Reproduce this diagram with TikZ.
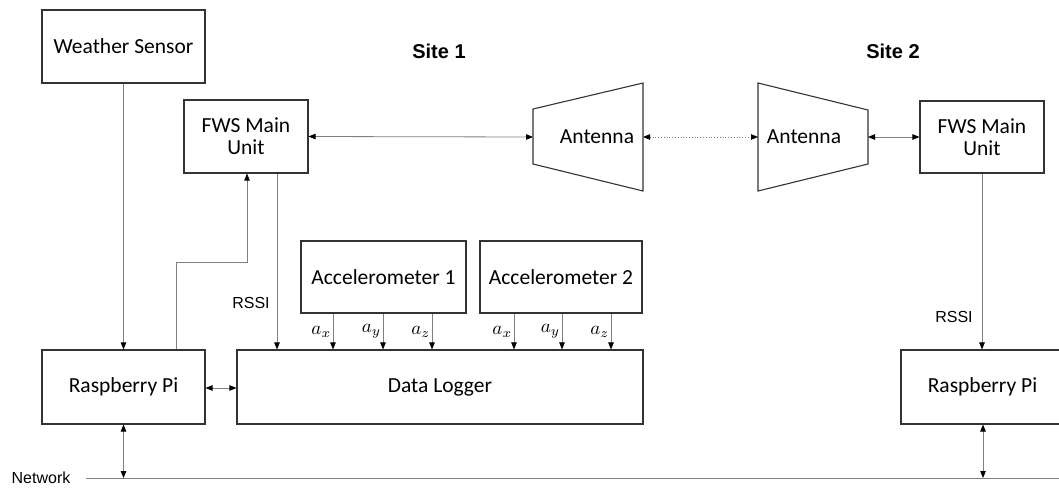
\documentclass[tikz,border=0pt]{standalone}
\usepackage{fontspec}
\setmainfont{Carlito}
\newfontfamily\arialf{Liberation Sans}
\usetikzlibrary{arrows.meta}
\begin{document}
\begin{tikzpicture}[x=1pt,y=-1pt,
  box/.style={draw=black!80,line width=1.1pt,minimum width=#1,inner sep=0pt,font=\fontsize{21.5}{25}\selectfont,align=center},
  conn/.style={draw=black!50,line width=0.8pt},
  tip/.style={-{Triangle[length=7pt,width=5.5pt,color=black]}},
  dtip/.style={{Triangle[length=7pt,width=5.5pt,color=black]}-{Triangle[length=7pt,width=5.5pt,color=black]}},
  lbl/.style={font=\arialf\fontsize{16}{18}\selectfont},
  ttl/.style={font=\arialf\bfseries\fontsize{20}{22}\selectfont},
  ax/.style={font=\fontsize{10}{12}\selectfont,inner sep=0.6pt,scale=1.9}]
\useasboundingbox (0,0) rectangle (1059,488);
% boxes
\node[box=163pt,minimum height=73pt] (ws) at (123.5,46.5) {Weather Sensor};
\node[box=124pt,minimum height=73pt] (fws1) at (246,136.5) {FWS Main\\[-3pt]Unit};
\node[box=124pt,minimum height=72pt] (fws2) at (982,137) {FWS Main\\[-3pt]Unit};
\node[box=165pt,minimum height=72pt] (acc1) at (383.5,277) {Accelerometer 1};
\node[box=162pt,minimum height=72pt] (acc2) at (561,277) {Accelerometer 2};
\node[box=406pt,minimum height=74pt] (dl) at (440,387) {Data Logger};
\node[box=163pt,minimum height=74pt] (rpi1) at (123.5,387) {Raspberry Pi};
\node[box=163pt,minimum height=74pt] (rpi2) at (982.5,387) {Raspberry Pi};
% antennas
\draw[black!80,line width=1.1pt] (533,109) -- (643,83) -- (643,191) -- (533,164) -- cycle;
\draw[black!80,line width=1.1pt] (758,83) -- (868,110) -- (868,164) -- (758,191) -- cycle;
\node[font=\fontsize{21.5}{25}\selectfont] (ant1) at (597,137) {Antenna};
\node[font=\fontsize{21.5}{25}\selectfont] (ant2) at (804,137) {Antenna};
\coordinate (ant1L) at (533,137);
\coordinate (ant1R) at (643,137);
\coordinate (ant2L) at (758,137);
\coordinate (ant2R) at (868,137);
% titles
\node[ttl] (s1) at (439,51) {Site 1};
\node[ttl] (s2) at (893,51) {Site 2};
% network
\coordinate (netL) at (86,478);
\coordinate (netR) at (1059,478);
\node[lbl] (net) at (41,478) {Network};
\draw[conn] (netL) -- (netR);
% connectors
\draw[conn,tip] (ws.south) -- (ws.south |- rpi1.north);
\draw[conn,tip] (rpi1.north -| 176,0) |- (247,262) -- (fws1.south -| 247,0);
\draw[conn,tip] (fws1.south -| 277,0) -- (dl.north -| 277,0);
\node[lbl] (rssi1) at (251,303) {RSSI};
\draw[conn,dtip] (fws1.east) -- (ant1L);
\draw[conn,dtip,dotted] (ant1R) -- (ant2L);
\draw[conn,dtip] (ant2R) -- (fws2.west |- ant2R);
\draw[conn,dtip] (rpi1.east |- 0,388) -- (dl.west |- 0,388);
\draw[conn,tip] (fws2.south) -- (rpi2.north -| fws2.south);
\node[lbl] (rssi2) at (954,317) {RSSI};
\draw[conn,dtip] (rpi1.south) -- (rpi1.south |- netL);
\draw[conn,dtip] (rpi2.south -| 983,0) -- (983,478);
% accelerometer outputs
\foreach \xx/\lab/\n in {333/x/a, 383/y/b, 432/z/c}{
  \draw[conn,tip] (acc1.south -| \xx,0) -- node[ax,left] (l1\n) {$a_\lab$} (dl.north -| \xx,0);
}
\foreach \xx/\lab/\n in {514/x/a, 562/y/b, 611/z/c}{
  \draw[conn,tip] (acc2.south -| \xx,0) -- node[ax,left] (l2\n) {$a_\lab$} (dl.north -| \xx,0);
}
\end{tikzpicture}
\end{document}
